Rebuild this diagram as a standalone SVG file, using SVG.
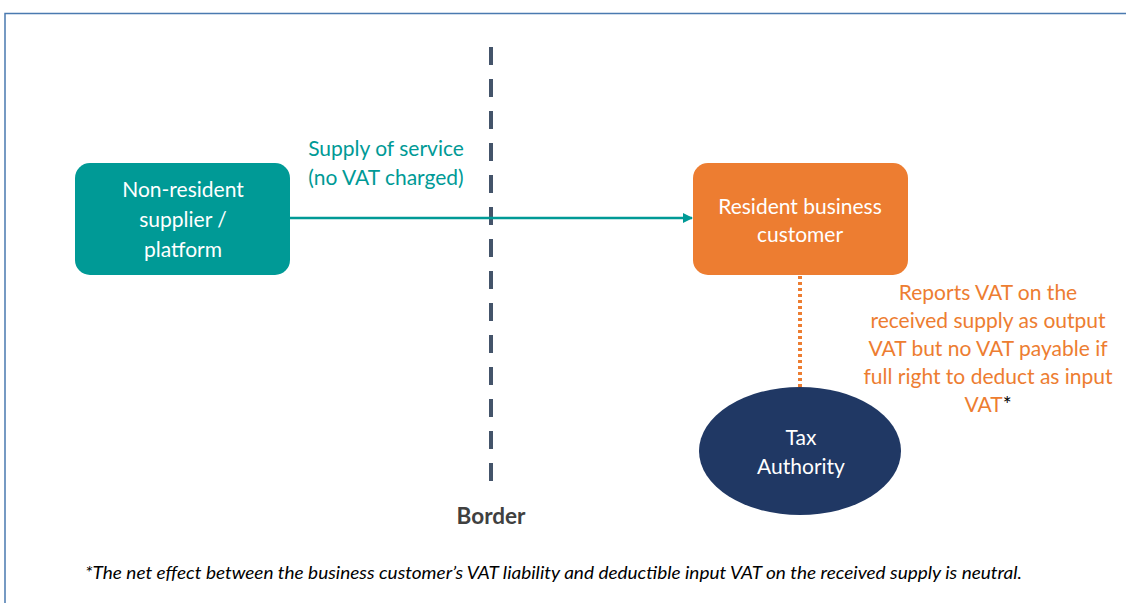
<svg xmlns="http://www.w3.org/2000/svg" width="1126" height="603" viewBox="0 0 1126 603">
<defs>
<style>
text{font-family:Lato,"Open Sans","Liberation Sans",sans-serif;}
.w{fill:#fff;font-size:21px;text-anchor:middle;}
.t{fill:#009a96;font-size:21px;text-anchor:middle;}
.o{fill:#ed7d31;font-size:21px;text-anchor:middle;}
</style>
<marker id="ah" viewBox="0 0 10 10" refX="9" refY="5" markerWidth="4" markerHeight="4" orient="auto" markerUnits="strokeWidth">
<path d="M0,0 L10,5 L0,10 z" fill="#009a96"/>
</marker>
</defs>
<rect x="0" y="0" width="1126" height="603" fill="#fff"/>
<path d="M5,603 V13.5 H1126" fill="none" stroke="#4a7ab0" stroke-width="1.5"/>
<g id="border">
<line x1="491" y1="47" x2="491" y2="487" stroke="#44546a" stroke-width="4" stroke-dasharray="18 14"/>
<text x="491" y="524" font-size="22.5" font-weight="bold" fill="#404040" text-anchor="middle">Border</text>
</g>
<g id="connectors">
<line x1="290" y1="218" x2="692" y2="218" stroke="#009a96" stroke-width="2.5" marker-end="url(#ah)"/>
<text class="t" x="386" y="156">Supply of service</text>
<text class="t" x="386" y="185">(no VAT charged)</text>
<line x1="800" y1="276" x2="800" y2="387" stroke="#ed7d31" stroke-width="4" stroke-dasharray="3 3"/>
<text class="o"><tspan x="988" y="300">Reports VAT on the</tspan><tspan x="988" y="328">received supply as output</tspan><tspan x="988" y="356">VAT but no VAT payable if</tspan><tspan x="988" y="384">full right to deduct as input</tspan><tspan x="988" y="412">VAT<tspan fill="#000">*</tspan></tspan></text>
</g>
<g id="supplier">
<rect x="75" y="163" width="215" height="112" rx="15" fill="#009a96"/>
<text class="w"><tspan x="183" y="197">Non-resident</tspan><tspan x="183" y="227">supplier /</tspan><tspan x="183" y="257">platform</tspan></text>
</g>
<g id="customer">
<rect x="693" y="163" width="215" height="112" rx="15" fill="#ed7d31"/>
<text class="w" font-size="20"><tspan x="800" y="214">Resident business</tspan><tspan x="800" y="242">customer</tspan></text>
</g>
<g id="authority">
<ellipse cx="800" cy="451" rx="101" ry="64" fill="#203864"/>
<text class="w" font-size="22"><tspan x="801" y="445">Tax</tspan><tspan x="801" y="474">Authority</tspan></text>
</g>
<text x="85" y="579" font-size="16.5" font-style="italic" fill="#000" textLength="937" lengthAdjust="spacingAndGlyphs">*The net effect between the business customer’s VAT liability and deductible input VAT on the received supply is neutral.</text>
</svg>
